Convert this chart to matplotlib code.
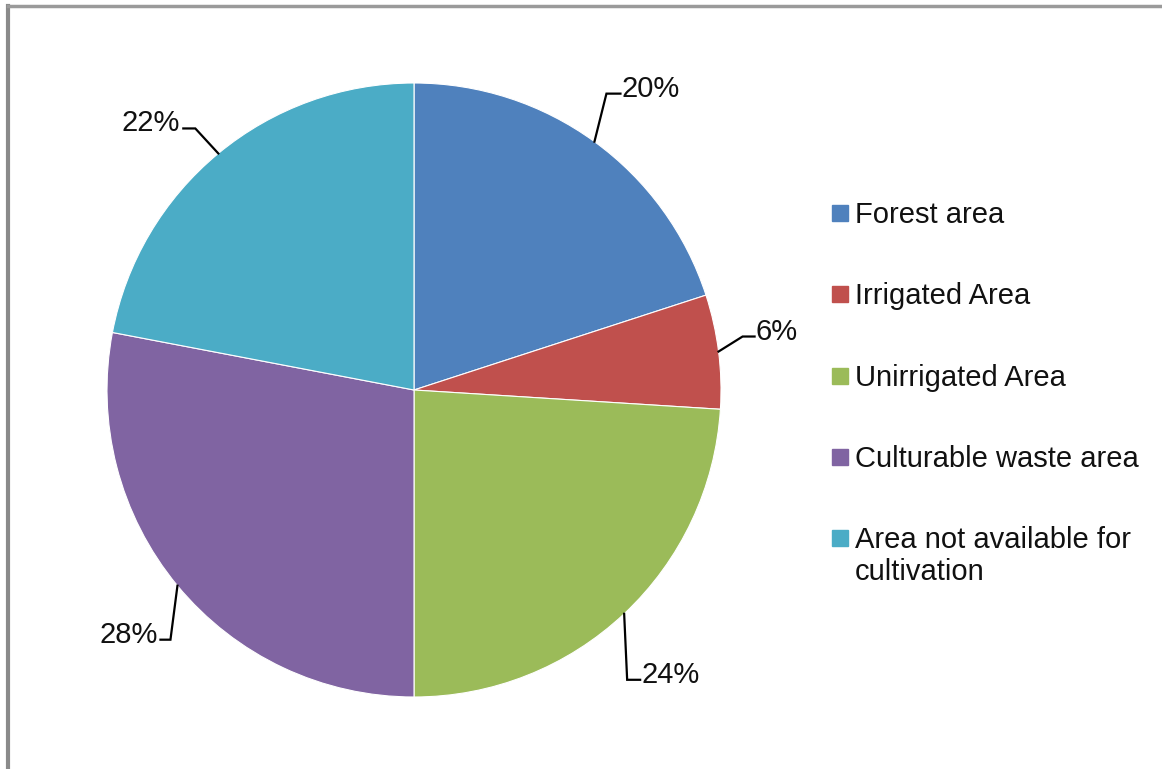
import numpy as np
import matplotlib.pyplot as plt
from matplotlib.lines import Line2D

plt.rcParams['font.family'] = ['Liberation Sans', 'DejaVu Sans']

# ---------------------------
# Data
# ---------------------------
categories = ["Forest area", "Irrigated Area", "Unirrigated Area",
              "Culturable waste area", "Area not available for\ncultivation"]
shares = [20, 6, 24, 28, 22]
colors = ["#4F81BD", "#C0504D", "#9BBB59", "#8064A2", "#4BACC6"]

# leader line layout (pixels): elbow offset from slice edge, then horizontal run
elbow = [(12, 48), (24, 15), (3, -66), (-7, -54), (-23, 25)]
run = [14, 12, 13, -10, -12]

W, H = 1162, 769
fig = plt.figure(figsize=(W / 100, H / 100), dpi=100)
ax = fig.add_axes([0, 0, 1, 1])

cx, cy, r = 414, H - 390, 307
wedges, _ = ax.pie(shares, colors=colors, startangle=90, counterclock=False,
                   center=(cx, cy), radius=r, frame=True,
                   wedgeprops=dict(edgecolor="white", linewidth=0.8))
ax.set_xlim(0, W)
ax.set_ylim(0, H)
ax.axis("off")

# ---------------------------
# Percent labels with leader lines
# ---------------------------
for w, val, (ex, ey), rn in zip(wedges, shares, elbow, run):
    ang = np.deg2rad((w.theta1 + w.theta2) / 2)
    x0, y0 = cx + r * np.cos(ang), cy + r * np.sin(ang)
    x1, y1 = x0 + ex, y0 + ey
    x2 = x1 + rn
    ax.plot([x0, x1, x2], [y0, y1, y1], color="black", lw=1.6,
            solid_joinstyle="miter")
    ha = "left" if rn > 0 else "right"
    ax.text(x2 + (1 if rn > 0 else -3), y1 + 5, f"{val}%", ha=ha, va="center",
            fontsize=21, color="#111111")

# ---------------------------
# Legend
# ---------------------------
for i, (lab, col) in enumerate(zip(categories, colors)):
    y = H - (213 + i * 81.3)
    ax.add_patch(plt.Rectangle((832, y - 8), 16, 16, color=col))
    for k, line in enumerate(lab.split("\n")):
        ax.text(855, y - 10 - k * 32, line, ha="left", va="baseline",
                fontsize=21, color="#111111")

# figure frame (left and top edges visible)
fig.add_artist(Line2D([7.5 / W, 7.5 / W], [0, 1 - 6 / H], color="#8a8a8a", lw=3))
fig.add_artist(Line2D([7.5 / W, 1], [1 - 6 / H, 1 - 6 / H], color="#9a9a9a", lw=2.5))

fig.savefig("out.png", dpi=100, facecolor="white")
